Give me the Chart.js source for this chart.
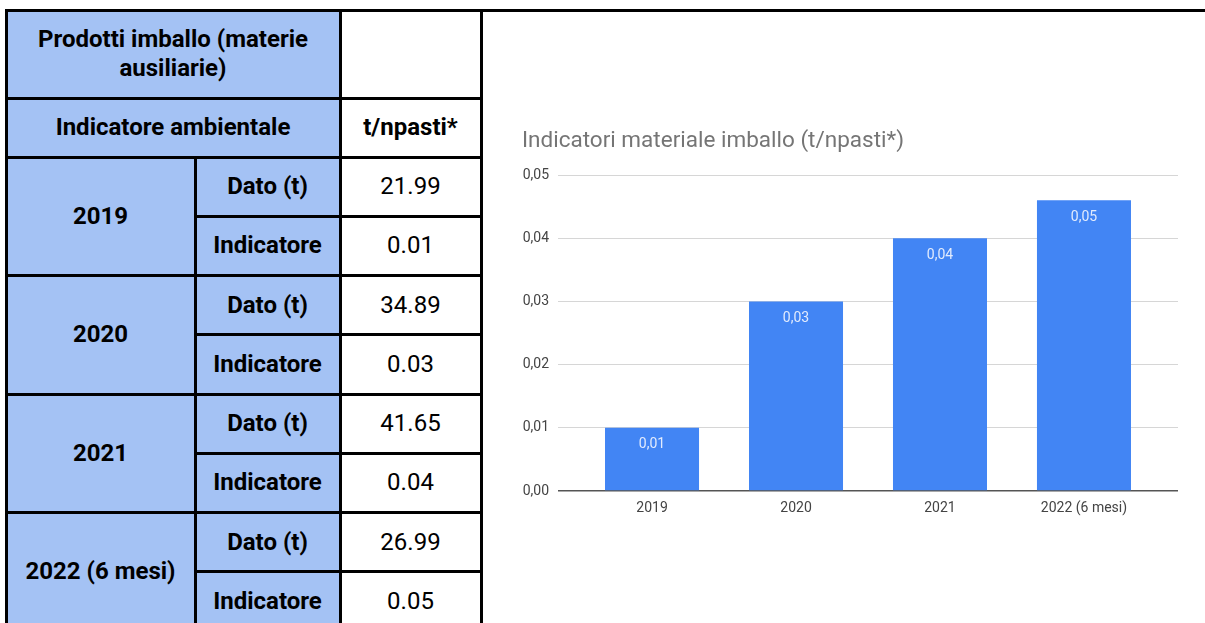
<!DOCTYPE html>
<html>
<head>
<meta charset="utf-8">
<script src="https://cdn.jsdelivr.net/npm/chart.js@4.4.1/dist/chart.umd.min.js"></script>
<style>
  html, body { margin: 0; padding: 0; background: #fff; width: 1205px; height: 623px; overflow: hidden; font-family: Roboto, "Noto Sans", sans-serif; }
  #sheet { position: absolute; left: 0; top: 0; width: 1205px; height: 623px; }
  .cell { position: absolute; display: flex; align-items: center; justify-content: center; text-align: center;
          font-size: 24px; line-height: 29px; color: #000; box-sizing: border-box; padding: 0 6px; }
  .blue { background: #a4c2f4; }
  .b { font-weight: 700; }
  .line { position: absolute; background: #000; }
  #chart { position: absolute; left: 484px; top: 12px; }
</style>
</head>
<body>
<div id="sheet"></div>
<canvas id="chart" width="721" height="611"></canvas>
<script>
// Table contents
const headerTitle = 'Prodotti imballo (materie ausiliarie)';
const headerIndicator = 'Indicatore ambientale';
const headerUnit = 't/npasti*';
const years = ['2019', '2020', '2021', '2022 (6 mesi)'];
const datoT = ['21.99', '34.89', '41.65', '26.99'];
const indicatore = ['0.01', '0.03', '0.04', '0.05'];

// Chart contents
const chartTitle = 'Indicatori materiale imballo (t/npasti*)';
const chartLabels = ['2019', '2020', '2021', '2022 (6 mesi)'];
const chartValues = [0.01, 0.03, 0.04, 0.046];

// ---- spreadsheet-style table ----
const sheet = document.getElementById('sheet');
const colX = [6, 195, 340, 481];
const rowH = 59.25;
const firstDataY = 157;

function addCell(x0, y0, x1, y1, html, cls) {
  const d = document.createElement('div');
  d.className = 'cell ' + (cls || '');
  d.style.left = x0 + 'px';
  d.style.top = y0 + 'px';
  d.style.width = (x1 - x0) + 'px';
  d.style.height = (y1 - y0) + 'px';
  d.innerHTML = html;
  sheet.appendChild(d);
}
function hLine(x0, x1, y) {
  const d = document.createElement('div');
  d.className = 'line';
  d.style.left = (x0 - 1.5) + 'px';
  d.style.top = (y - 1.5) + 'px';
  d.style.width = (x1 - x0 + 3) + 'px';
  d.style.height = '3px';
  sheet.appendChild(d);
}
function vLine(x, y0, y1) {
  const d = document.createElement('div');
  d.className = 'line';
  d.style.left = (x - 1.5) + 'px';
  d.style.top = (y0 - 1.5) + 'px';
  d.style.width = '3px';
  d.style.height = (y1 - y0 + 3) + 'px';
  sheet.appendChild(d);
}

addCell(colX[0], 10, colX[2], 98, headerTitle, 'blue b');
addCell(colX[2], 10, colX[3], 98, '', '');
addCell(colX[0], 98, colX[2], firstDataY, headerIndicator, 'blue b');
addCell(colX[2], 98, colX[3], firstDataY, headerUnit, 'b');

const bottom = 640;
years.forEach((y, i) => {
  const y0 = firstDataY + 2 * i * rowH;
  const ym = y0 + rowH;
  const y1 = y0 + 2 * rowH;
  addCell(colX[0], y0, colX[1], y1, y, 'blue b');
  addCell(colX[1], y0, colX[2], ym, 'Dato (t)', 'blue b');
  addCell(colX[2], y0, colX[3], ym, datoT[i], '');
  addCell(colX[1], ym, colX[2], y1, 'Indicatore', 'blue b');
  addCell(colX[2], ym, colX[3], y1, indicatore[i], '');
  hLine(colX[0], colX[3], y0);
  hLine(colX[1], colX[3], ym);
});

hLine(colX[0], 1210, 10);
hLine(colX[0], colX[3], 98);
vLine(colX[0], 10, bottom);
vLine(colX[2], 10, bottom);
vLine(colX[3], 10, bottom);
vLine(colX[1], firstDataY, bottom);

// ---- bar chart ----
const fmt = v => v.toFixed(2).replace('.', ',');

const barValueLabels = {
  id: 'barValueLabels',
  afterDatasetsDraw(chart) {
    const ctx = chart.ctx;
    const meta = chart.getDatasetMeta(0);
    ctx.save();
    ctx.fillStyle = '#e2ebfd';
    ctx.font = '14px Roboto';
    ctx.textAlign = 'center';
    ctx.textBaseline = 'middle';
    meta.data.forEach((bar, i) => {
      ctx.fillText(fmt(chartValues[i]), bar.x, bar.y + 17);
    });
    ctx.restore();
  }
};

Chart.defaults.font.family = 'Roboto';

new Chart(document.getElementById('chart'), {
  type: 'bar',
  data: {
    datasets: [{
      data: chartValues.map((v, i) => ({ x: i, y: v })),
      backgroundColor: '#4285f4',
      barPercentage: 0.653,
      categoryPercentage: 1
    }]
  },
  options: {
    responsive: false,
    animation: false,
    layout: { padding: { left: 38, right: 27, top: 0, bottom: 0 } },
    plugins: {
      legend: { display: false },
      tooltip: { enabled: false },
      title: {
        display: true,
        text: chartTitle,
        align: 'start',
        color: '#757575',
        font: { family: 'Roboto', size: 22.5, weight: 'normal' },
        padding: { top: 116, bottom: 20 }
      }
    },
    scales: {
      x: {
        type: 'linear',
        offset: false,
        min: -0.653,
        max: 3.653,
        grid: { display: false, drawTicks: false, offset: false },
        border: { display: false },
        afterBuildTicks: s => { s.ticks = chartLabels.map((_, i) => ({ value: i })); },
        afterFit: s => { s.height = 132; },
        ticks: {
          callback: v => chartLabels[v],
          color: '#444',
          font: { size: 14 },
          padding: 9,
          maxRotation: 0,
          autoSkip: false
        }
      },
      y: {
        min: 0,
        max: 0.05,
        afterFit: s => { s.width = 36; },
        ticks: {
          stepSize: 0.01,
          callback: v => fmt(v),
          color: '#444',
          font: { size: 14 },
          padding: 9
        },
        grid: {
          drawTicks: false,
          color: c => (c.tick && Math.abs(c.tick.value) < 1e-9) ? '#555' : '#d6d6d6',
          lineWidth: c => (c.tick && Math.abs(c.tick.value) < 1e-9) ? 1.5 : 1
        },
        border: { display: false }
      }
    }
  },
  plugins: [barValueLabels]
});
</script>
</body>
</html>
